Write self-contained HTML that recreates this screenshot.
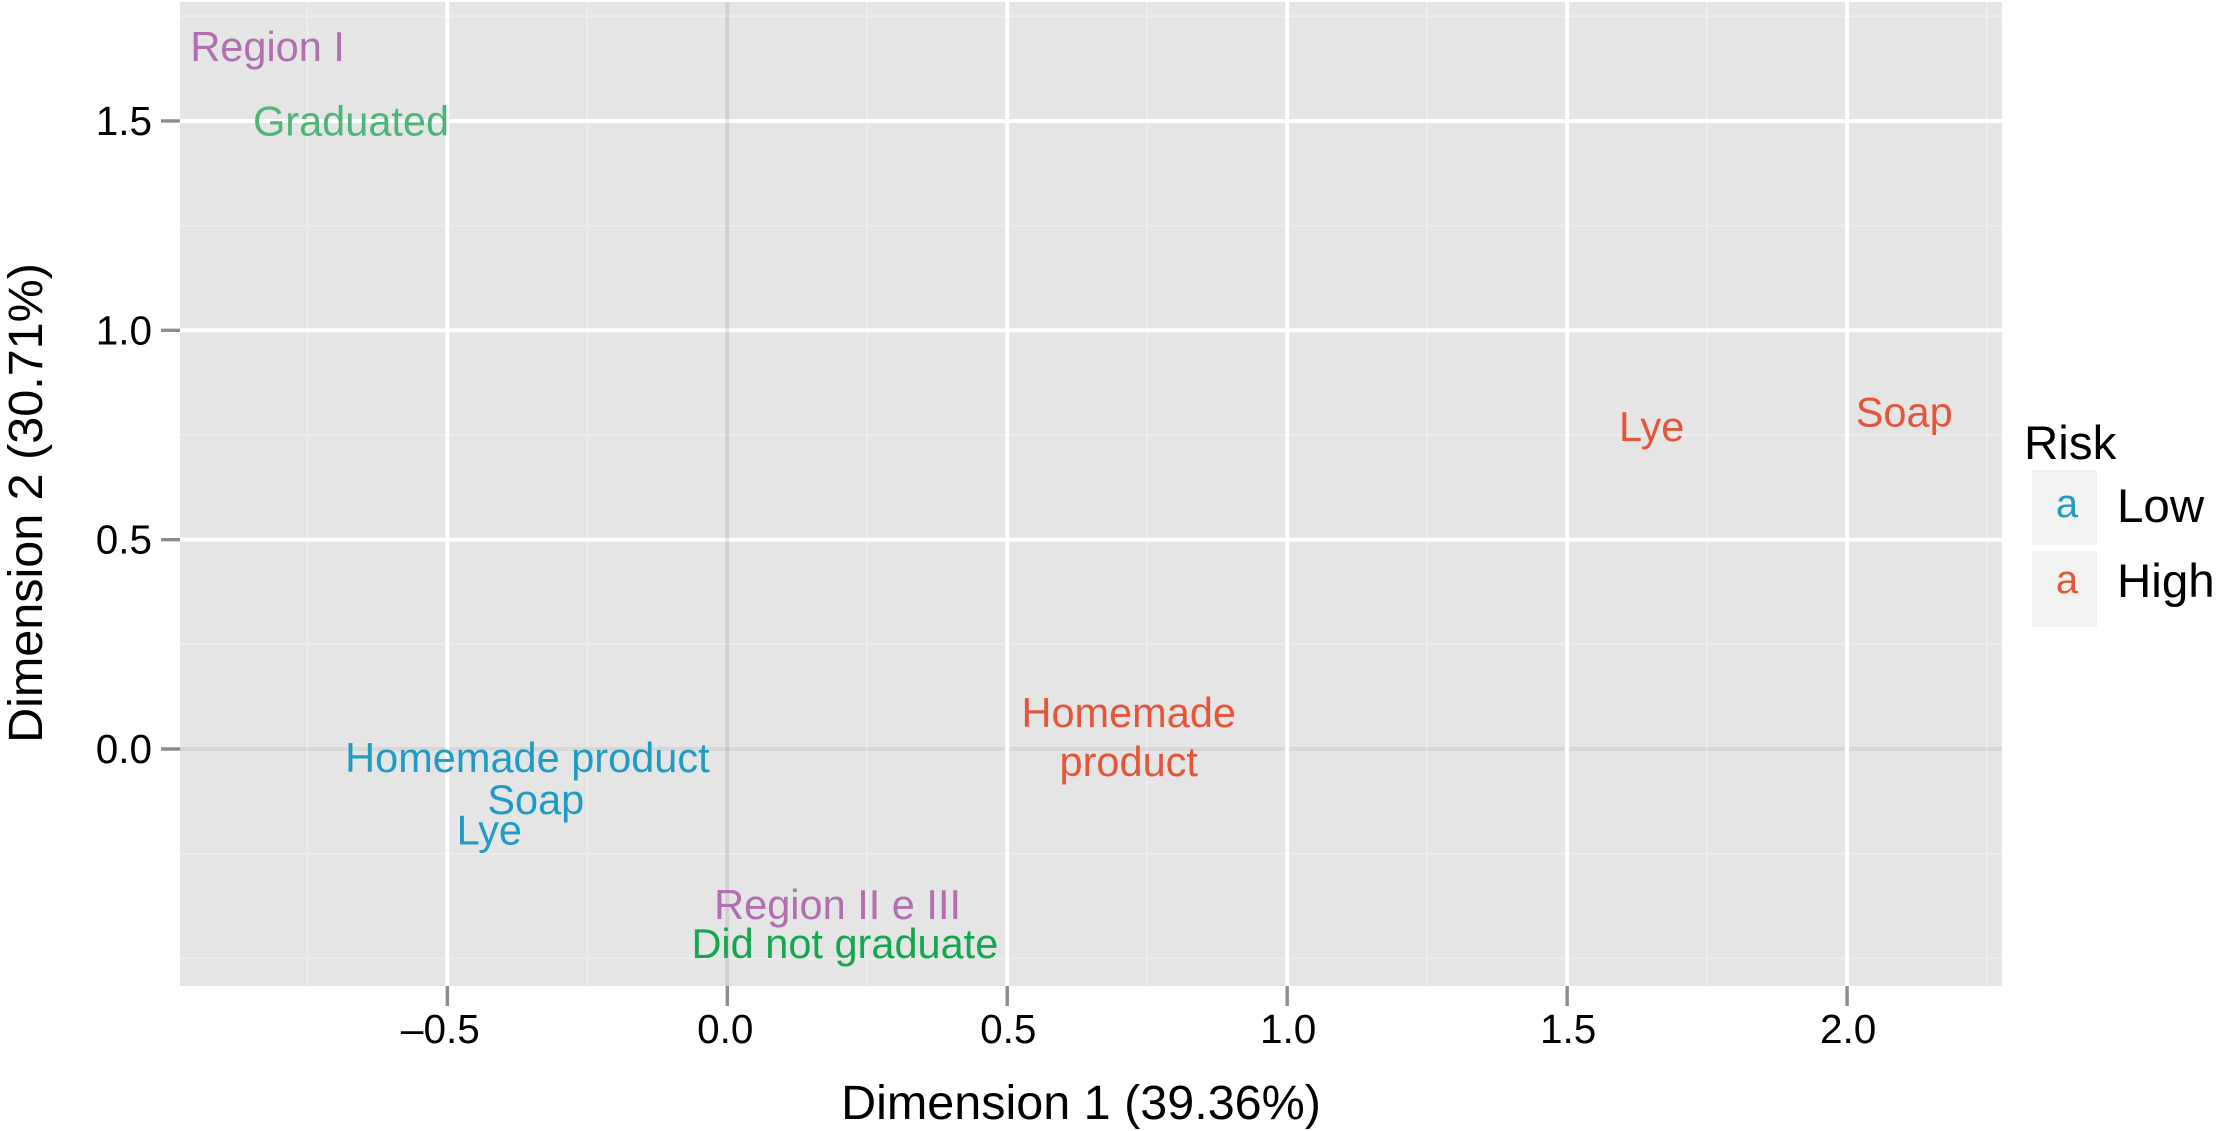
<!DOCTYPE html>
<html lang="en">
<head>
<meta charset="utf-8">
<title>Correspondence analysis: Dimension 1 vs Dimension 2</title>
<style>
  html, body { margin: 0; padding: 0; background: #fff; }
  body { width: 2216px; height: 1131px; overflow: hidden; }
  svg { display: block; font-family: "Liberation Sans", Arial, sans-serif; }
</style>
</head>
<body>
<svg id="chart" xmlns="http://www.w3.org/2000/svg" width="2216" height="1131" viewBox="0 0 2216 1131">
  <rect x="0" y="0" width="2216" height="1131" fill="#ffffff"/>
  <rect x="180" y="2" width="1822" height="984" fill="#e4e5e4"/>
  <g id="grid"></g>
  <g id="ticks"></g>
  <g id="labels"></g>

  <text x="1081" y="1119" font-size="48.5" text-anchor="middle" fill="#000">Dimension 1 (39.36%)</text>
  <text transform="translate(42 503) rotate(-90)" font-size="48.5" text-anchor="middle" fill="#000">Dimension 2 (30.71%)</text>

  <g>
    <text x="2024" y="459" font-size="47.5" fill="#000">Risk</text>
    <g>
      <rect x="2032" y="470" width="65" height="75" fill="#f2f2f0"/>
      <text x="2067" y="517" font-size="40" text-anchor="middle" fill="#1f9bc4">a</text>
      <text x="2117" y="522" font-size="47.5" fill="#000">Low</text>
    </g>
    <g>
      <rect x="2032" y="551" width="65" height="76" fill="#f2f2f0"/>
      <text x="2067" y="593" font-size="40" text-anchor="middle" fill="#e4553a">a</text>
      <text x="2117" y="597" font-size="47.5" fill="#000">High</text>
    </g>
  </g>
</svg>
<script>
// Chart data
const xMajorTicks = [-0.5, 0, 0.5, 1, 1.5, 2];
const xTickLabels = ["\u20130.5", "0.0", "0.5", "1.0", "1.5", "2.0"];
const yMajorTicks = [0, 0.5, 1, 1.5];
const yTickLabels = ["0.0", "0.5", "1.0", "1.5"];
const xMinorBreaks = [-0.75, -0.25, 0.25, 0.75, 1.25, 1.75, 2.25];
const yMinorBreaks = [-0.5, -0.25, 0.25, 0.75, 1.25, 1.75];

const pointNames = ["Region I", "Graduated", "Homemade product", "Soap", "Lye", "Region II e III", "Did not graduate", "Homemade|product", "Lye", "Soap"];
const pointGroups = ["region", "graduated", "low", "low", "low", "region", "notGraduated", "high", "high", "high"];
const dimension1 = [-0.821, -0.672, -0.357, -0.342, -0.425, 0.197, 0.210, 0.717, 1.651, 2.102];
const dimension2 = [1.678, 1.500, -0.020, -0.121, -0.193, -0.371, -0.465, 0.029, 0.770, 0.805];

// Scales and styling
const SVG_NS = 'http://www.w3.org/2000/svg';
const xScale = function (v) { return 727.3 + 559.9 * v; };
const yScale = function (v) { return 749 - 418.7 * v; };
const panel = { left: 180, right: 2002, top: 2, bottom: 986 };
const groupColors = { region: '#b06fb0', graduated: '#4db577', low: '#1f9bc4', high: '#e4553a', notGraduated: '#13a84f' };

const gridGroup = document.getElementById('grid');
const tickGroup = document.getElementById('ticks');
const labelGroup = document.getElementById('labels');

function drawLine(parent, x1, y1, x2, y2, stroke, width) {
  const line = document.createElementNS(SVG_NS, 'line');
  line.setAttribute('x1', x1);
  line.setAttribute('y1', y1);
  line.setAttribute('x2', x2);
  line.setAttribute('y2', y2);
  line.setAttribute('stroke', stroke);
  line.setAttribute('stroke-width', width);
  parent.appendChild(line);
  return line;
}

xMinorBreaks.forEach(function (v) {
  const el = drawLine(gridGroup, xScale(v), panel.top, xScale(v), panel.bottom, '#ecedec', 2);
  
  
});
yMinorBreaks.forEach(function (v) {
  const el = drawLine(gridGroup, panel.left, yScale(v), panel.right, yScale(v), '#ecedec', 2);
  
  
});
yMajorTicks.forEach(function (v) {
  const el = drawLine(gridGroup, panel.left, yScale(v), panel.right, yScale(v), v === 0 ? 'rgba(0,0,0,0.06)' : '#ffffff', 4);
  
  
});
xMajorTicks.forEach(function (v) {
  const el = drawLine(gridGroup, xScale(v), panel.top, xScale(v), panel.bottom, v === 0 ? 'rgba(0,0,0,0.09)' : '#ffffff', 4);
  
  
});

xMajorTicks.forEach(function (v, i) {
  const mark = drawLine(tickGroup, xScale(v), panel.bottom, xScale(v), panel.bottom + 20, '#8c8c8c', 3.4);
  
  
  const text = document.createElementNS(SVG_NS, 'text');
  
  
  text.setAttribute('x', xScale(v) + (v < 0 ? -7 : (v === 0 ? -2 : 1)));
  text.setAttribute('y', 1043);
  text.setAttribute('font-size', 40.5);
  text.setAttribute('text-anchor', 'middle');
  text.setAttribute('fill', '#000');
  text.textContent = xTickLabels[i];
  tickGroup.appendChild(text);
});

yMajorTicks.forEach(function (v, i) {
  const mark = drawLine(tickGroup, panel.left - 19, yScale(v), panel.left, yScale(v), '#8c8c8c', 3.4);
  
  
  const text = document.createElementNS(SVG_NS, 'text');
  
  
  text.setAttribute('x', 152);
  text.setAttribute('y', yScale(v) + 14);
  text.setAttribute('font-size', 40.5);
  text.setAttribute('text-anchor', 'end');
  text.setAttribute('fill', '#000');
  text.textContent = yTickLabels[i];
  tickGroup.appendChild(text);
});

pointNames.forEach(function (name, i) {
  const lines = name.split('|');
  const lineStep = 49;
  const firstBaseline = yScale(dimension2[i]) + 14.5 - (lines.length - 1) * lineStep / 2;
  const text = document.createElementNS(SVG_NS, 'text');
  
  
  text.setAttribute('font-size', 41.5);
  text.setAttribute('text-anchor', 'middle');
  text.setAttribute('fill', groupColors[pointGroups[i]]);
  lines.forEach(function (line, j) {
    const span = document.createElementNS(SVG_NS, 'tspan');
    span.setAttribute('x', xScale(dimension1[i]));
    span.setAttribute('y', firstBaseline + j * lineStep);
    span.textContent = line;
    text.appendChild(span);
  });
  labelGroup.appendChild(text);
});
</script>
</body>
</html>
